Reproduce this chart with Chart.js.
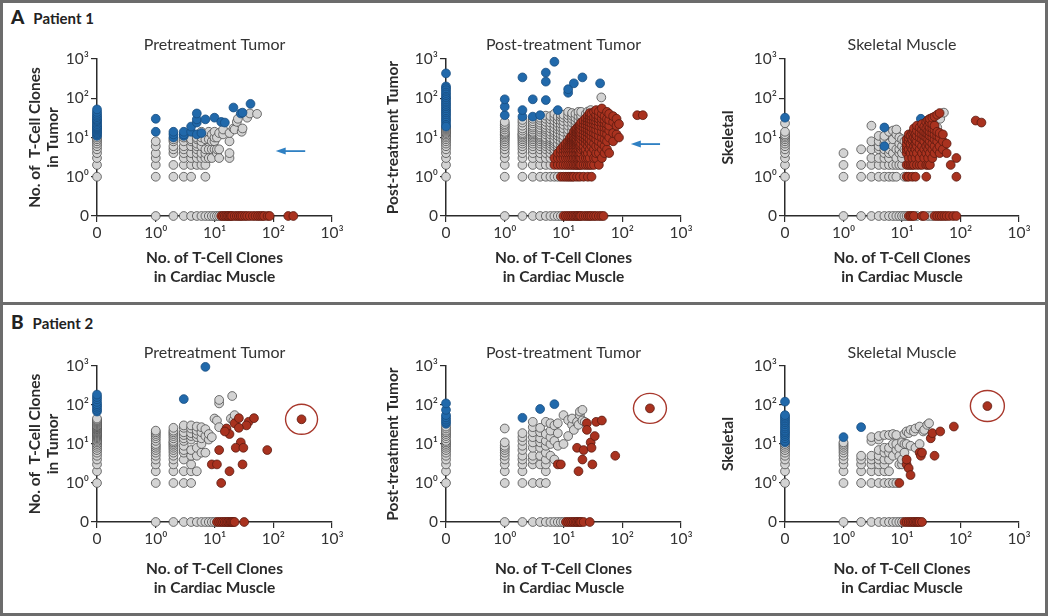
<!DOCTYPE html>
<html>
<head>
<meta charset="utf-8">
<script src="https://cdn.jsdelivr.net/npm/chart.js@4.4.0/dist/chart.umd.min.js"></script>
<style>
  body { margin: 0; background: #fff; font-family: Lato, "Open Sans", sans-serif; }
  #frame { position: absolute; left: 0; top: 0; width: 1048px; height: 616px; box-sizing: border-box; border: 3px solid #6c6c6c; }
  #sep { position: absolute; left: 0; top: 302px; width: 1048px; height: 3px; background: #6c6c6c; }
  .hdr { position: absolute; left: 11px; font-weight: bold; color: #222; font-size: 15px; white-space: nowrap; }
  .hdr b { font-size: 19px; margin-right: 9px; }
  canvas { position: absolute; }
</style>
</head>
<body>
<div id="frame"></div>
<div id="sep"></div>
<div class="hdr" style="top:5px"><b>A</b>Patient 1</div>
<div class="hdr" style="top:310px"><b>B</b>Patient 2</div>

<canvas id="a1" width="350" height="262" style="left:10px;top:28px"></canvas>
<canvas id="a2" width="335" height="262" style="left:370px;top:28px"></canvas>
<canvas id="a3" width="335" height="262" style="left:705px;top:28px"></canvas>
<canvas id="b1" width="350" height="262" style="left:10px;top:336px"></canvas>
<canvas id="b2" width="335" height="262" style="left:370px;top:336px"></canvas>
<canvas id="b3" width="335" height="262" style="left:705px;top:336px"></canvas>

<script>
// broken log axis: the "0" column sits one decade below 10^0
const ZERO = 0.1;
const tickVals = [ZERO, 1, 10, 100, 1000];
const tickLabels = ['0', '10⁰', '10¹', '10²', '10³'];

const xTitle = ['No. of T-Cell Clones', 'in Cardiac Muscle'];
const yTitleTumor = ['No. of  T-Cell Clones', 'in Tumor'];

// ---- Patient 1 ----
// [x clone count, [y clone counts...]]
const a1Grey = [
  [0, [1, 2, 3, 4, 5, 6, 7, 8, 9, 10]],
  [1, [1, 2, 3, 4, 6, 8]], [2, [1, 2, 4, 5, 6, 8, 9]], [3, [1, 2, 3, 4, 5, 6, 8, 10]],
  [4, [1, 2, 3, 4, 6, 8, 9]], [5, [2, 3, 4, 5, 6, 7, 9, 10]], [6, [2, 3, 4, 6, 8, 10, 14]],
  [7, [1, 2, 3, 4, 5, 9]], [8, [3, 5, 9, 14]], [9, [3, 5, 8, 12]], [10, [5, 8, 10, 14]],
  [11, [4, 5, 10]], [12, [3, 5, 13]], [14, [12, 16]], [18, [3, 4, 8, 13]], [21, [17]],
  [22, [16]], [24, [25]], [25, [30]], [29, [14]], [30, [17]], [36, [32]], [40, [41]], [53, [40]]
];
const a1Blue = [
  [0, [11, 12, 13, 14, 15, 16, 17, 18, 19, 20, 22, 24, 26, 28, 30, 33, 36, 40, 45, 52]],
  [1, [14, 30]], [2, [10, 12, 14]], [3, [11, 12, 14]], [4, [14, 19]], [5, [12, 24, 29, 41]],
  [6, [13]], [7, [29]], [10, [32]], [13, [25]], [15, [24]], [21, [58]], [28, [41]], [30, [43]], [41, [72]]
];
const a1Red = [];
const a1GreyAxis = [1, 2, 3, 4, 5, 6, 7, 8, 9, 10, 11, 12];
const a1RedAxis = [13, 14, 15, 16, 17, 18, 19, 20, 22, 24, 26, 28, 30, 33, 36, 40, 45, 50, 55, 60, 65, 70, 80, 87, 180, 220];

const a2Grey = [
  [0, [1, 2, 3, 4, 5, 6, 7, 8, 9, 10, 11, 12, 13, 14, 15, 16, 17, 18]],
  [1, [1, 2, 3, 4, 5, 6, 7, 8, 9, 10, 11, 12, 13, 14, 16, 18, 20, 22, 25]],
  [2, [1, 2, 3, 4, 5, 6, 7, 8, 9, 10, 11, 12, 13, 15, 17, 20, 24, 28]],
  [3, [1, 2, 3, 4, 5, 6, 7, 8, 9, 10, 11, 12, 13, 14, 16, 18, 20, 23, 26, 30]],
  [4, [1, 2, 3, 4, 5, 6, 7, 8, 9, 10, 11, 12, 14, 16, 18, 21, 24, 28, 32]],
  [5, [1, 2, 3, 4, 5, 6, 7, 8, 9, 10, 12, 14, 16, 18, 21, 25, 30, 36]],
  [6, [1, 2, 3, 4, 5, 6, 7, 8, 9, 10, 12, 14, 17, 20, 24, 29, 35]],
  [7, [1, 4, 5, 6, 7, 8, 9, 11, 13, 15, 18, 22, 27, 33, 40]],
  [8, [1, 5, 6, 7, 9, 11, 13, 16, 19, 23, 28, 34]],
  [9, [6, 8, 10, 12, 15, 18, 22, 27, 33, 38]],
  [10, [7, 9, 11, 14, 17, 21, 26, 32, 38]],
  [12, [9, 10, 13, 16, 20, 25, 31, 37, 45]],
  [14, [12, 15, 19, 24, 30, 36, 42]],
  [16, [17, 21, 26, 32, 40]], [18, [22, 28, 35, 45]], [20, [30, 36, 45]],
  [24, [40]], [26, [46]], [29, [50]], [44, [105]]
];
const a2Blue = [
  [0, [430, 200, 180, 160, 140, 125, 110, 100, 90, 80, 72, 65, 58, 52, 47, 42, 38, 34, 30, 27, 24, 21, 19]],
  [1, [37, 61, 94]], [2, [34, 50, 340]], [3, [34, 94]], [4, [37]], [5, [90, 265, 450]],
  [7, [850]], [8, [50]], [12, [138, 170]], [15, [240]], [21, [340]], [42, [240]]
];
const a2Red = [
  [7, [2, 3]], [8, [2, 3, 4]], [9, [1, 2, 3, 4, 5]], [10, [1, 2, 3, 4, 5, 6]],
  [11, [1, 2, 3, 4, 5, 6, 7]], [12, [1, 2, 3, 4, 5, 6, 7, 8]], [13, [1, 2, 3, 4, 5, 6, 7, 8, 9, 10]],
  [14, [1, 2, 3, 4, 5, 6, 7, 8, 9, 10, 11]], [15, [1, 2, 3, 4, 5, 6, 7, 8, 9, 10, 12, 14]],
  [16, [2, 3, 4, 5, 6, 7, 8, 9, 10, 12, 14, 16]], [17, [1, 2, 3, 4, 5, 6, 7, 8, 9, 11, 13, 15, 17]],
  [18, [2, 3, 4, 5, 6, 7, 8, 10, 12, 14, 16, 19]], [19, [1, 2, 3, 4, 6, 8, 10, 12, 15, 18, 21]],
  [20, [2, 3, 4, 5, 6, 7, 9, 11, 13, 16, 20, 24]], [22, [1, 2, 3, 5, 6, 8, 10, 12, 15, 18, 22, 27]],
  [24, [2, 3, 4, 5, 7, 9, 11, 14, 17, 21, 26, 31]], [26, [1, 2, 3, 4, 6, 8, 10, 13, 16, 20, 25, 30, 36]],
  [28, [2, 3, 5, 7, 9, 12, 15, 19, 24, 29, 35, 42]], [30, [1, 2, 4, 6, 8, 11, 14, 18, 23, 28, 34, 40]],
  [33, [2, 3, 5, 7, 10, 13, 17, 22, 27, 33, 45]], [36, [3, 4, 6, 9, 12, 16, 21, 26, 32, 38, 50]],
  [40, [2, 4, 6, 8, 11, 15, 20, 25, 30, 36, 46]], [45, [3, 5, 7, 10, 14, 19, 24, 30, 40, 55]],
  [50, [4, 6, 9, 13, 18, 23, 28, 35]], [55, [5, 8, 12, 17, 22, 30, 45]], [60, [4, 10, 15, 20, 28, 40]],
  [70, [8, 13, 25, 35]], [80, [12, 20, 30]], [88, [10, 22]], [180, [37]], [224, [37]]
];
const a2GreyAxis = [1, 2, 3, 4, 5, 6, 7, 8, 9];
const a2RedAxis = [10, 11, 12, 13, 14, 15, 16, 17, 18, 19, 20, 22, 24, 26, 28, 30, 33, 36, 40, 44, 48];

const a3Grey = [
  [0, [1, 2, 3, 4, 5, 6, 7, 8, 9, 10, 11, 12, 14, 23]],
  [1, [1, 2, 4]], [2, [1, 2, 5]], [3, [1, 2, 3, 5, 8, 20]], [4, [1, 2, 3, 5, 6, 8, 11]],
  [5, [1, 2, 3, 4, 5, 7, 9, 11]], [6, [1, 2, 3, 4, 5, 7, 14]], [7, [1, 2, 4, 6, 9, 15]],
  [8, [1, 2, 3, 5, 12, 16]], [9, [2, 4, 5, 7, 10]], [10, [2, 3, 4, 6, 9]], [11, [1, 5, 8]],
  [12, [5]], [20, [9, 12]], [23, [9]], [25, [16, 20]], [30, [11]], [35, [5]], [40, [18]], [45, [30]], [52, [43]]
];
const a3Blue = [[0, [32]], [5, [6, 18]], [21, [30]]];
const a3Red = [
  [12, [1, 2, 4, 5, 6, 7, 9]], [13, [1, 2, 3, 5, 8, 10, 12]], [14, [2, 4, 6, 7, 11]],
  [15, [1, 2, 3, 5, 8, 9, 13]], [16, [2, 4, 6, 10, 14, 17]], [17, [1, 3, 5, 7, 9, 12]],
  [18, [2, 4, 6, 8, 11, 15, 20]], [20, [2, 3, 5, 7, 10, 13, 18]], [22, [2, 4, 6, 9, 12, 16, 22]],
  [24, [3, 5, 8, 11, 14, 19]], [26, [1, 2, 4, 6, 10, 13, 17, 25]], [28, [2, 3, 5, 7, 9, 12, 15, 20, 28]],
  [30, [2, 4, 6, 8, 11, 14, 18, 24, 30]], [33, [3, 5, 7, 10, 13, 17, 22, 32]], [36, [4, 6, 9, 12, 16, 20, 34]],
  [40, [5, 8, 11, 14, 38]], [44, [4, 6, 10, 13, 42]], [50, [5, 8, 12]], [58, [4, 7]], [68, [2]],
  [85, [1, 3]], [182, [27]], [228, [24]]
];
const a3GreyAxis = [1, 2, 3, 4, 5, 6, 7, 8, 9, 10, 11, 12, 18, 28, 32];
const a3RedAxis = [13, 14, 15, 16, 22, 24, 36, 40, 44, 48, 53, 58, 65, 75, 85];

// ---- Patient 2 ----
const b1Grey = [
  [0, [1, 2, 3, 4, 5, 6, 7, 8, 9, 10, 11, 12, 13, 14, 15, 16, 17, 18, 19, 20, 21, 22, 23, 24, 25, 26, 27, 28, 29, 30, 32, 34, 36, 38, 40, 42, 45]],
  [1, [1, 2, 3, 4, 5, 6, 7, 8, 9, 10, 12, 14, 16, 18, 20, 22]],
  [2, [1, 2, 3, 4, 5, 6, 7, 8, 9, 10, 11, 12, 14, 16, 18, 20, 22, 26]],
  [3, [1, 2, 4, 6, 7, 9, 12, 14, 17, 20, 26, 30]], [4, [1, 2, 3, 5, 7, 13, 16, 19, 25, 30]],
  [5, [2, 5, 8, 15, 18, 22, 28]], [6, [6, 10, 14, 20, 27]], [7, [6, 16, 24]], [8, [13, 18]],
  [9, [15]], [10, [45]], [11, [40]], [12, [27, 110, 135]], [19, [45]], [20, [170]], [21, [40]], [22, [55]]
];
const b1Blue = [[0, [68, 75, 85, 95, 105, 120, 140, 160, 185]], [3, [142]], [7, [950]]];
const b1Red = [
  [22, [34]], [26, [46]], [38, [37]], [47, [46]], [35, [30]], [16, [25]], [18, [18]], [15, [21]],
  [26, [26]], [28, [11]], [23, [8]], [31, [8]], [79, [7]], [12, [7]], [9, [3]], [11, [3]],
  [30, [3]], [18, [2]], [13, [1]], [303, [43]]
];
const b1GreyAxis = [1, 2, 3, 4, 5, 6, 7, 8, 9, 10];
const b1RedAxis = [11, 12, 13, 14, 15, 16, 17, 18, 19, 20, 21, 22, 32];

const b2Grey = [
  [0, [1, 2, 3, 4, 5, 6, 7, 8, 9, 10, 11, 12, 14, 16, 18, 20, 22, 25, 28]],
  [1, [1, 2, 3, 4, 5, 6, 7, 8, 9, 11, 25]], [2, [1, 2, 3, 4, 5, 7, 9, 12, 15, 19]],
  [3, [1, 3, 4, 5, 8, 11, 15, 20, 27, 37]], [4, [1, 3, 5, 8, 11, 14, 20, 26]],
  [5, [1, 2, 3, 4, 6, 9, 12, 18, 37]], [6, [5, 10, 15, 22, 34]], [7, [4, 12, 30]],
  [8, [9, 19, 34]], [10, [10, 55]], [12, [16, 41]], [14, [31, 45]], [15, [23]], [17, [37]],
  [18, [31]], [19, [55, 68]], [21, [40, 75]], [23, [37]]
];
const b2Blue = [[0, [33, 37, 42, 48, 55, 75, 110]], [2, [47]], [4, [79]], [7, [105]]];
const b2Red = [
  [25, [34]], [36, [37]], [45, [40]], [25, [23]], [29, [11]], [34, [16]], [17, [8]], [22, [7]],
  [30, [8]], [21, [4]], [31, [3]], [18, [2]], [8, [3]], [9, [3]], [76, [5]], [296, [82]]
];
const b2GreyAxis = [1, 2, 3, 4, 5, 6, 7, 8, 9, 10];
const b2RedAxis = [11, 12, 13, 14, 15, 16, 17, 18, 19, 20, 22, 28];

const b3Grey = [
  [0, [1, 2, 3, 4, 5, 6, 7, 8, 9, 10]],
  [1, [1, 2, 3, 4, 5, 6, 7, 8, 9, 10, 11]], [2, [1, 2, 3, 4, 5]], [3, [1, 2, 3, 4, 5, 12, 15]],
  [4, [1, 2, 3, 4, 5, 7, 13, 16]], [5, [1, 2, 3, 4, 6, 8, 17]], [6, [1, 2, 4, 6, 8, 17]],
  [7, [1, 5, 10, 18]], [8, [1, 7, 10, 17]], [9, [3, 5, 8]], [10, [3, 4, 11]], [11, [6, 10, 18]],
  [12, [10, 21]], [13, [19]], [14, [9, 23]], [16, [21]], [17, [8, 25]], [20, [10, 28]],
  [23, [21]], [24, [23]], [27, [31]], [29, [34]]
];
const b3Blue = [[0, [11, 12, 14, 16, 18, 20, 22, 25, 28, 32, 36, 40, 45, 50, 55, 122]], [1, [15]], [2, [27]]];
const b3Red = [
  [9, [1]], [12, [3, 4]], [13, [2.4]], [14, [1.6]], [20, [6]], [21, [5]], [22, [6]], [36, [5]],
  [31, [14]], [33, [19]], [45, [21]], [77, [28]], [288, [94]]
];
const b3GreyAxis = [1, 2, 3, 4, 5, 6, 7, 8, 9, 10];
const b3RedAxis = [11, 12, 13, 14, 15, 16, 17, 18, 19, 20, 22];

const FONT = 'Lato, "Open Sans", sans-serif';
const INK = '#2b2b2b';
const z = v => (v === 0 ? ZERO : v);

function points(cols, axisXs) {
  const out = [];
  cols.forEach(([x, ys]) => ys.forEach(y => out.push({ x: z(x), y: z(y) })));
  (axisXs || []).forEach(x => out.push({ x: z(x), y: ZERO }));
  return out;
}

// arrows and rings drawn in data space
const marks = {
  id: 'marks',
  afterDatasetsDraw(chart, args, opts) {
    const { ctx, scales: { x, y } } = chart;
    ctx.save();
    (opts.arrows || []).forEach(a => {
      const x1 = x.getPixelForValue(a.from), x2 = x.getPixelForValue(a.to), py = y.getPixelForValue(a.y);
      ctx.strokeStyle = '#2f80c3';
      ctx.fillStyle = '#2f80c3';
      ctx.lineWidth = 1.8;
      ctx.beginPath();
      ctx.moveTo(x1, py);
      ctx.lineTo(x2 + 8, py);
      ctx.stroke();
      ctx.beginPath();
      ctx.moveTo(x2, py);
      ctx.lineTo(x2 + 10, py - 3.5);
      ctx.lineTo(x2 + 10, py + 3.5);
      ctx.closePath();
      ctx.fill();
    });
    (opts.rings || []).forEach(r => {
      ctx.strokeStyle = '#a8382c';
      ctx.lineWidth = 1.4;
      ctx.beginPath();
      ctx.ellipse(x.getPixelForValue(r.x), y.getPixelForValue(r.y), r.rx, r.ry, 0, 0, Math.PI * 2);
      ctx.stroke();
    });
    ctx.restore();
  }
};
Chart.register(marks);

function scatterSet(data, fill, border) {
  return {
    data: data,
    backgroundColor: fill,
    borderColor: border,
    borderWidth: 0.8,
    pointRadius: 4.4,
    clip: false
  };
}

function axisOpts(p, horizontal) {
  return {
    type: 'logarithmic',
    min: ZERO,
    max: 1000,
    afterBuildTicks: s => { s.ticks = tickVals.map(v => ({ value: v })); },
    afterFit: s => { if (horizontal) s.height = p.xHeight; else s.width = p.yWidth; },
    grid: { drawOnChartArea: false, drawTicks: true, tickLength: 6, color: INK, lineWidth: 1.2 },
    border: { display: true, color: INK, width: 1.5 },
    ticks: {
      autoSkip: false, maxRotation: 0, color: '#333', padding: 2,
      font: { family: FONT, size: 15.5 },
      callback: (v, i) => tickLabels[i]
    },
    title: horizontal
      ? { display: true, text: xTitle, color: INK, font: { family: FONT, size: 15.5, weight: 'bold', lineHeight: '19px' }, padding: { top: 0, bottom: p.xTitleBottom } }
      : { display: true, text: p.yTitle, color: INK, font: { family: FONT, size: 15.5, weight: 'bold', lineHeight: '17.5px' }, padding: { top: p.yTitlePad, bottom: 0 } }
  };
}

function makePanel(id, p) {
  new Chart(document.getElementById(id), {
    type: 'scatter',
    data: {
      datasets: [
        scatterSet(points(p.red, p.redAxis), '#a9321f', '#5a1a10'),
        scatterSet(points(p.blue, []), '#2169ab', '#174d80'),
        scatterSet(points(p.grey, p.greyAxis), '#d3d3d3', '#4d4d4d')
      ]
    },
    options: {
      responsive: false,
      animation: false,
      events: [],
      layout: { padding: { left: 0, right: p.padRight, top: 0, bottom: 0 } },
      plugins: {
        legend: { display: false },
        tooltip: { enabled: false },
        title: {
          display: true, text: p.title, fullSize: false, color: '#333',
          font: { family: FONT, size: 16, weight: 'normal', lineHeight: '18px' },
          padding: { top: 8, bottom: p.titleBottom }
        },
        marks: { arrows: p.arrows || [], rings: p.rings || [] }
      },
      scales: { x: axisOpts(p, true), y: axisOpts(p, false) }
    }
  });
}

const rowA = { xHeight: 74, xTitleBottom: 3.5, titleBottom: 5 };
const rowB = { xHeight: 76, xTitleBottom: 0.5, titleBottom: 4 };

makePanel('a1', Object.assign({}, rowA, {
  title: 'Pretreatment Tumor', yTitle: yTitleTumor, yTitlePad: 16.25, yWidth: 87, padRight: 28,
  grey: a1Grey, blue: a1Blue, red: a1Red, greyAxis: a1GreyAxis, redAxis: a1RedAxis,
  arrows: [{ from: 350, to: 110, y: 4.5 }]
}));
makePanel('a2', Object.assign({}, rowA, {
  title: 'Post-treatment Tumor', yTitle: 'Post-treatment Tumor', yTitlePad: 14.25, yWidth: 76, padRight: 24,
  grey: a2Grey, blue: a2Blue, red: a2Red, greyAxis: a2GreyAxis, redAxis: a2RedAxis,
  arrows: [{ from: 440, to: 140, y: 6.8 }]
}));
makePanel('a3', Object.assign({}, rowA, {
  title: 'Skeletal Muscle', yTitle: 'Skeletal', yTitlePad: 14.25, yWidth: 80, padRight: 21,
  grey: a3Grey, blue: a3Blue, red: a3Red, greyAxis: a3GreyAxis, redAxis: a3RedAxis
}));
makePanel('b1', Object.assign({}, rowB, {
  title: 'Pretreatment Tumor', yTitle: yTitleTumor, yTitlePad: 16.25, yWidth: 87, padRight: 28,
  grey: b1Grey, blue: b1Blue, red: b1Red, greyAxis: b1GreyAxis, redAxis: b1RedAxis,
  rings: [{ x: 303, y: 43, rx: 16, ry: 15 }]
}));
makePanel('b2', Object.assign({}, rowB, {
  title: 'Post-treatment Tumor', yTitle: 'Post-treatment Tumor', yTitlePad: 14.25, yWidth: 76, padRight: 24,
  grey: b2Grey, blue: b2Blue, red: b2Red, greyAxis: b2GreyAxis, redAxis: b2RedAxis,
  rings: [{ x: 296, y: 82, rx: 16.5, ry: 15 }]
}));
makePanel('b3', Object.assign({}, rowB, {
  title: 'Skeletal Muscle', yTitle: 'Skeletal', yTitlePad: 14.25, yWidth: 80, padRight: 21,
  grey: b3Grey, blue: b3Blue, red: b3Red, greyAxis: b3GreyAxis, redAxis: b3RedAxis,
  rings: [{ x: 288, y: 94, rx: 17, ry: 15.5 }]
}));
</script>
</body>
</html>
